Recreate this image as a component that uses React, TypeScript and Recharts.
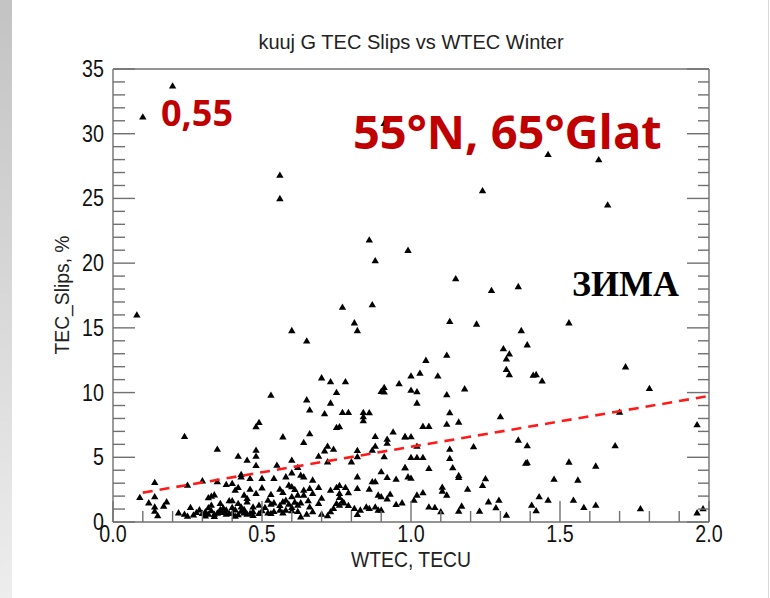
import { Scatter, ScatterChart, XAxis, YAxis } from 'recharts';

const AXIS = '#707070';
const RED = '#c00000';
const FONT = "'Liberation Sans', Arial, sans-serif";
// IDL-style narrow lettering for the tick numbers
const NARROW = 0.82;

const X_TICKS = [0, 0.1, 0.2, 0.3, 0.4, 0.5, 0.6, 0.7, 0.8, 0.9, 1.0, 1.1, 1.2, 1.3, 1.4, 1.5, 1.6, 1.7, 1.8, 1.9, 2.0];
const Y_TICKS = [
  0, 1, 2, 3, 4, 5, 6, 7, 8, 9, 10, 11, 12, 13, 14, 15, 16, 17, 18,
  19, 20, 21, 22, 23, 24, 25, 26, 27, 28, 29, 30, 31, 32, 33, 34, 35,
];

// [WTEC, TEC slips %] per station-day, split by WTEC range
const WTEC_LOW: [number, number][] = [
  [0.08, 16.0], [0.10, 31.3], [0.20, 33.7],
  [0.09, 1.91], [0.14, 3.07], [0.14, 1.96], [0.12, 1.49], [0.14, 1.18], [0.14, 0.85], [0.15, 0.49],
  [0.17, 1.24], [0.18, 1.57], [0.24, 6.62], [0.25, 2.86], [0.22, 0.72], [0.24, 0.62], [0.25, 0.46],
  [0.26, 1.13], [0.28, 0.75], [0.30, 3.19], [0.30, 0.67], [0.32, 0.62], [0.32, 1.88], [0.33, 2.0],
  [0.34, 2.11], [0.32, 1.11], [0.33, 1.31], [0.33, 0.88], [0.34, 0.62], [0.35, 5.64], [0.35, 3.12],
  [0.36, 0.80], [0.36, 0.98], [0.38, 2.91], [0.39, 1.65], [0.40, 2.99], [0.41, 2.47], [0.42, 2.68],
  [0.40, 1.65], [0.38, 0.93], [0.39, 0.67], [0.40, 0.67], [0.41, 0.46], [0.42, 5.10], [0.43, 3.68],
  [0.43, 3.50], [0.45, 4.79], [0.45, 1.83], [0.45, 1.57], [0.46, 3.37], [0.46, 2.55], [0.48, 2.22],
  [0.48, 5.10], [0.48, 5.56], [0.48, 7.37], [0.49, 7.70], [0.48, 4.38], [0.44, 0.72], [0.45, 0.62],
  [0.46, 0.67], [0.47, 0.80], [0.49, 0.67], [0.47, 1.18], [0.43, 1.18], [0.42, 1.44], [0.44, 2.09],
  [0.40, 1.13], [0.31, 0.80], [0.36, 1.44], [0.38, 0.62], [0.49, 1.31], [0.37, 0.75], [0.35, 0.70],
  [0.43, 0.85], [0.41, 0.95], [0.27, 0.55], [0.29, 0.95], [0.34, 0.45], [0.42, 0.58], [0.44, 0.98],
  [0.37, 1.10], [0.31, 0.48], [0.47, 0.52],
];

const WTEC_MID: [number, number][] = [
  [0.56, 26.8], [0.56, 25.0], [0.86, 21.8], [0.88, 20.2], [0.91, 30.8], [0.99, 21.0],
  [0.60, 14.8], [0.65, 14.0], [0.77, 16.6], [0.87, 16.8], [0.81, 15.4], [0.82, 14.8],
  [0.50, 3.37], [0.50, 2.65],
  [0.70, 11.15], [0.73, 10.85], [0.78, 10.85], [0.53, 9.81], [0.75, 10.02], [0.91, 10.4], [0.90, 10.1],
  [0.91, 10.05], [0.96, 10.7], [0.65, 9.45], [0.73, 9.2], [0.66, 8.66], [0.71, 8.37], [0.77, 8.47],
  [0.79, 8.47], [0.84, 8.47], [0.86, 8.45], [0.84, 8.14], [0.84, 7.83], [0.76, 7.37], [0.75, 7.32],
  [0.66, 6.83], [0.57, 6.59], [0.64, 6.16], [0.72, 5.87], [0.74, 5.64], [0.71, 5.51], [0.88, 6.62],
  [0.92, 6.41], [0.92, 6.10], [0.94, 6.96], [0.98, 6.59], [0.88, 5.87], [0.87, 5.56], [0.82, 5.54],
  [0.69, 5.10], [0.60, 4.79], [0.72, 4.66], [0.80, 4.66], [0.82, 5.05], [0.91, 5.05], [0.55, 4.40],
  [0.62, 4.22], [0.60, 3.81], [0.63, 3.63], [0.64, 3.50], [0.58, 3.50], [0.67, 3.25], [0.98, 4.20],
  [0.90, 3.89], [0.92, 3.45], [0.82, 3.50], [0.87, 3.12], [0.88, 3.12], [0.95, 3.32], [0.54, 3.37],
  [0.56, 2.55], [0.57, 2.29], [0.59, 2.86], [0.60, 2.73], [0.61, 2.52], [0.64, 2.47], [0.66, 2.60],
  [0.69, 2.68], [0.64, 2.09], [0.67, 2.22], [0.70, 1.85], [0.73, 2.47], [0.75, 2.68], [0.76, 2.83],
  [0.78, 2.68], [0.76, 2.22], [0.76, 1.91], [0.77, 1.62], [0.79, 2.27], [0.82, 2.60], [0.86, 2.55],
  [0.89, 2.09], [0.90, 1.96], [0.92, 1.80], [0.93, 2.16], [0.95, 1.37], [0.97, 1.49], [0.53, 2.14],
  [0.52, 1.70], [0.53, 1.39], [0.54, 1.49], [0.56, 1.29], [0.57, 1.57], [0.58, 1.70], [0.59, 1.39],
  [0.61, 1.55], [0.62, 1.31], [0.63, 1.49], [0.51, 1.13], [0.50, 0.88], [0.52, 0.72], [0.53, 0.67],
  [0.54, 0.82], [0.56, 0.93], [0.57, 0.72], [0.58, 0.93], [0.60, 1.13], [0.60, 0.88], [0.62, 0.82],
  [0.63, 0.41], [0.655, 1.65], [0.66, 1.18], [0.70, 0.62], [0.72, 0.49], [0.73, 0.80], [0.74, 1.06],
  [0.75, 1.44], [0.76, 1.31], [0.775, 1.49], [0.79, 1.29], [0.81, 1.06], [0.82, 0.59], [0.83, 0.93],
  [0.85, 1.18], [0.86, 1.06], [0.88, 1.18], [0.89, 0.93], [0.90, 0.93], [0.62, 2.09], [0.60, 1.96],
  [0.69, 1.44], [0.67, 0.80], [0.65, 0.62],
];

const WTEC_HIGH: [number, number][] = [
  [1.15, 18.8], [1.27, 17.9], [1.36, 18.2], [1.24, 25.6], [1.46, 28.4],
  [1.13, 15.5], [1.22, 15.3], [1.37, 14.8], [1.39, 13.7], [1.12, 12.9], [1.05, 12.5], [1.31, 13.4],
  [1.33, 13.0], [1.32, 12.6], [1.32, 11.8], [1.33, 11.4],
  [1.00, 11.3], [1.03, 11.5], [1.09, 11.3], [1.41, 11.35], [1.42, 11.4], [1.44, 10.9],
  [1.00, 10.2], [1.02, 10.07], [1.12, 9.84], [1.18, 10.3], [1.02, 9.2], [1.13, 8.45], [1.12, 7.57],
  [1.16, 7.73], [1.30, 8.14], [1.04, 7.4], [1.06, 7.4], [0.98, 6.6], [1.00, 6.6], [1.02, 5.87],
  [1.13, 5.64], [1.21, 5.82], [1.36, 6.34], [1.39, 5.90], [1.00, 5.0], [1.02, 5.0], [1.04, 5.0],
  [1.13, 4.92], [1.06, 4.15], [0.98, 4.2], [1.14, 4.2], [1.16, 3.6], [1.16, 3.45], [0.99, 3.5],
  [1.00, 3.4], [1.385, 4.55], [1.39, 4.6], [1.25, 3.35], [1.24, 2.83], [1.48, 3.32], [1.105, 2.7],
  [1.105, 2.4], [1.12, 2.09], [1.19, 2.55], [1.04, 2.27], [1.02, 2.09], [1.01, 1.70], [1.06, 1.18],
  [1.08, 1.13], [1.10, 0.80], [1.16, 0.85], [1.17, 1.24], [1.23, 0.85], [1.26, 1.57], [1.285, 1.11],
  [1.295, 1.70], [1.32, 0.54], [1.405, 1.31], [1.43, 1.96], [1.42, 0.88], [1.46, 1.70],
];

const WTEC_TOP: [number, number][] = [
  [1.63, 28.0], [1.66, 24.5], [1.53, 15.4], [1.72, 12.0], [1.80, 10.33], [1.70, 8.50], [1.96, 7.52],
  [1.685, 5.90], [1.53, 4.64], [1.62, 4.33], [1.56, 3.25], [1.545, 1.70], [1.58, 1.13], [1.62, 1.31],
  [1.77, 1.03], [1.96, 0.72], [1.98, 1.03],
];

// least-squares fit, R = 0.55
const FIT_X = [0.1, 2.0];
const FIT_Y = [2.27, 9.74];

const points = [...WTEC_LOW, ...WTEC_MID, ...WTEC_HIGH, ...WTEC_TOP].map(([x, y]) => ({ x, y }));
const fit = FIT_X.map((x, i) => ({ x, y: FIT_Y[i] }));

const isMajor = (v: number, step: number) => Math.abs(v / step - Math.round(v / step)) < 1e-6;

function Triangle(props: any) {
  const { cx, cy } = props;
  return <path d={`M${cx},${cy - 3.6}L${cx + 3.7},${cy + 2.7}L${cx - 3.7},${cy + 2.7}Z`} fill="#000" />;
}

function BottomTick({ x, y, payload }: any) {
  const major = isMajor(payload.value, 0.5);
  return (
    <g>
      <line x1={x} x2={x} y1={y} y2={y - (major ? 21 : 11)} stroke={AXIS} strokeWidth={1.4} />
      {major && (
        <text
          transform={`translate(${x},${y + 20}) scale(${NARROW},1)`}
          textAnchor="middle"
          fontFamily={FONT}
          fontSize={24}
          fill="#111"
        >
          {payload.value.toFixed(1)}
        </text>
      )}
    </g>
  );
}

function TopTick({ x, y, payload }: any) {
  const major = isMajor(payload.value, 0.5);
  return <line x1={x} x2={x} y1={y} y2={y + (major ? 21 : 11)} stroke={AXIS} strokeWidth={1.4} />;
}

function LeftTick({ x, y, payload }: any) {
  const major = isMajor(payload.value, 5);
  return (
    <g>
      <line x1={x} x2={x + (major ? 22 : 12)} y1={y} y2={y} stroke={AXIS} strokeWidth={1.4} />
      {major && (
        <text
          transform={`translate(${x - 9},${y + 8}) scale(${NARROW},1)`}
          textAnchor="end"
          fontFamily={FONT}
          fontSize={24}
          fill="#111"
        >
          {payload.value}
        </text>
      )}
    </g>
  );
}

function RightTick({ x, y, payload }: any) {
  const major = isMajor(payload.value, 5);
  return <line x1={x} x2={x - (major ? 22 : 11)} y1={y} y2={y} stroke={AXIS} strokeWidth={1.4} />;
}

export default function App() {
  return (
    <div style={{ position: 'absolute', left: 0, top: 0, width: 770, height: 598, background: '#fff', overflow: 'hidden' }}>
      <div style={{ position: 'absolute', left: 0, top: 0, width: 12, height: 598, background: 'linear-gradient(#c3c3c3, #ededed)' }} />
      <div style={{ position: 'absolute', left: 768, top: 0, width: 1, height: 598, background: '#d6d6d6' }} />
      <div style={{ position: 'absolute', left: 0, top: 0 }}>
        <ScatterChart width={770} height={598} margin={{ top: 68, right: 60, bottom: 46, left: 73 }}>
          <XAxis
            dataKey="x"
            type="number"
            domain={[0, 2]}
            ticks={X_TICKS}
            interval={0}
            height={30}
            tickSize={0}
            tickMargin={0}
            tick={<BottomTick />}
            axisLine={{ stroke: AXIS, strokeWidth: 1.4 }}
            allowDataOverflow
          />
          <XAxis
            xAxisId="top"
            orientation="top"
            type="number"
            domain={[0, 2]}
            ticks={X_TICKS}
            interval={0}
            height={1}
            tickSize={0}
            tickMargin={0}
            tick={<TopTick />}
            axisLine={{ stroke: AXIS, strokeWidth: 1.4 }}
            allowDataOverflow
          />
          <YAxis
            dataKey="y"
            type="number"
            domain={[0, 35]}
            ticks={Y_TICKS}
            interval={0}
            width={40}
            tickSize={0}
            tickMargin={0}
            tick={<LeftTick />}
            axisLine={{ stroke: AXIS, strokeWidth: 1.4 }}
            allowDataOverflow
          />
          <YAxis
            yAxisId="right"
            orientation="right"
            type="number"
            domain={[0, 35]}
            ticks={Y_TICKS}
            interval={0}
            width={1}
            tickSize={0}
            tickMargin={0}
            tick={<RightTick />}
            axisLine={{ stroke: AXIS, strokeWidth: 1.4 }}
            allowDataOverflow
          />
          <Scatter data={points} shape={<Triangle />} isAnimationActive={false} />
          <Scatter
            data={fit}
            shape={() => <g />}
            line={{ stroke: '#ff1a1a', strokeWidth: 2.6, strokeDasharray: '10 7' }}
            isAnimationActive={false}
          />
        </ScatterChart>
      </div>
      <svg width={770} height={598} style={{ position: 'absolute', left: 0, top: 0, pointerEvents: 'none' }}>
        <text x={411} y={49} textAnchor="middle" fontFamily={FONT} fontSize={20} fill="#222">
          kuuj G TEC Slips vs WTEC Winter
        </text>
        <text
          transform={`translate(411,567) scale(0.88,1)`}
          textAnchor="middle"
          fontFamily={FONT}
          fontSize={22}
          fill="#222"
        >
          WTEC, TECU
        </text>
        <text
          transform="translate(69,295) rotate(-90) scale(0.92,1)"
          textAnchor="middle"
          fontFamily={FONT}
          fontSize={21}
          fill="#222"
        >
          TEC_Slips, %
        </text>
        <text x={161} y={126} fontFamily="'Open Sans', sans-serif" fontWeight={700} fontSize={36} fill={RED}>
          0,55
        </text>
        <text x={353} y={149} fontFamily="'Open Sans', sans-serif" fontWeight={700} fontSize={47} fill={RED}>
          55°N, 65°Glat
        </text>
        <text x={572} y={296} fontFamily="'Liberation Serif', serif" fontWeight={700} fontSize={36} fill="#000">
          ЗИМА
        </text>
      </svg>
    </div>
  );
}
